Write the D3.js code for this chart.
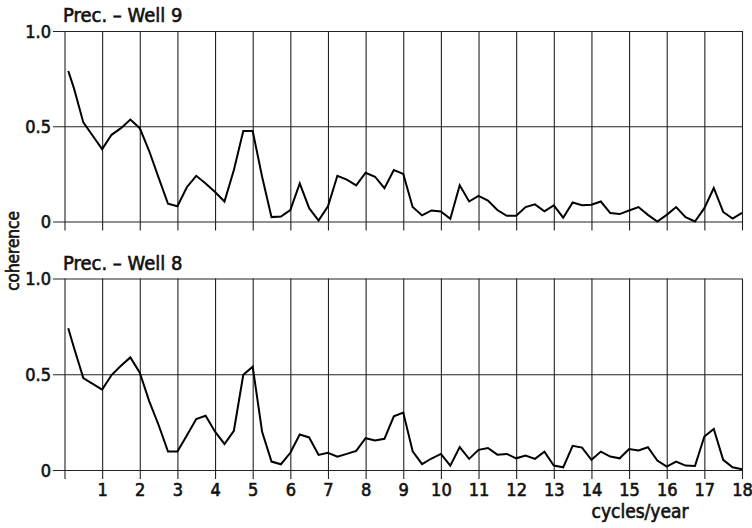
<!DOCTYPE html>
<html>
<head>
<meta charset="utf-8">
<script src="https://cdn.jsdelivr.net/npm/d3@7"></script>
<style>
  body { margin: 0; background: #fff; }
  svg text { font-family: "DejaVu Sans Condensed", "DejaVu Sans", sans-serif; fill: #111; stroke: #111; stroke-width: 0.6px; }
</style>
</head>
<body>
<div id="chart"></div>
<script>
// frequency grid (cycles/year) and coherence
const freqs = [0.1, 0.25, 0.5, 0.75, 1, 1.25, 1.5, 1.75, 2, 2.25, 2.5, 2.75, 3, 3.25, 3.5, 3.75,
  4, 4.25, 4.5, 4.75, 5, 5.25, 5.5, 5.75, 6, 6.25, 6.5, 6.75, 7, 7.25, 7.5, 7.75,
  8, 8.25, 8.5, 8.75, 9, 9.25, 9.5, 9.75, 10, 10.25, 10.5, 10.75, 11, 11.25, 11.5, 11.75,
  12, 12.25, 12.5, 12.75, 13, 13.25, 13.5, 13.75, 14, 14.25, 14.5, 14.75, 15, 15.25, 15.5, 15.75,
  16, 16.25, 16.5, 16.75, 17, 17.25, 17.5, 17.75, 18];

const well9 = [0.79, 0.70, 0.52, 0.45, 0.38, 0.455, 0.49, 0.535, 0.49, 0.37, 0.23, 0.093, 0.08, 0.18, 0.24, 0.20,
  0.155, 0.105, 0.27, 0.475, 0.475, 0.235, 0.023, 0.026, 0.06, 0.20, 0.07, 0.005, 0.08, 0.24, 0.22, 0.19,
  0.256, 0.235, 0.175, 0.27, 0.25, 0.076, 0.032, 0.058, 0.053, 0.014, 0.19, 0.105, 0.134, 0.11, 0.06, 0.03,
  0.03, 0.076, 0.09, 0.053, 0.085, 0.02, 0.10, 0.085, 0.088, 0.105, 0.044, 0.039, 0.058, 0.076, 0.035, 0.0,
  0.035, 0.076, 0.023, 0.0, 0.07, 0.176, 0.05, 0.015, 0.045];

const well8 = [0.74, 0.64, 0.48, 0.45, 0.42, 0.496, 0.544, 0.588, 0.508, 0.36, 0.235, 0.096, 0.096, 0.18, 0.266, 0.283,
  0.20, 0.136, 0.205, 0.497, 0.539, 0.20, 0.044, 0.03, 0.09, 0.185, 0.17, 0.079, 0.09, 0.07, 0.084, 0.10,
  0.166, 0.154, 0.163, 0.28, 0.30, 0.098, 0.031, 0.06, 0.084, 0.023, 0.12, 0.058, 0.105, 0.115, 0.08, 0.084,
  0.061, 0.075, 0.058, 0.096, 0.023, 0.014, 0.126, 0.117, 0.053, 0.096, 0.07, 0.061, 0.109, 0.102, 0.119, 0.049,
  0.018, 0.044, 0.023, 0.021, 0.175, 0.214, 0.053, 0.014, 0.004];

const xTicks = d3.range(0, 19);
const xTickLabels = xTicks.map(d => d === 0 ? "" : String(d));
const yTicks = [0, 0.5, 1.0];
const yTickLabels = ["0", "0.5", "1.0"];

const panels = [
  { title: "Prec. \u2013 Well 9", values: well9, top: 31, bottom: 221.5, labels: false },
  { title: "Prec. \u2013 Well 8", values: well8, top: 278.5, bottom: 470, labels: true }
];

const width = 752, height = 528;
const left = 64.5, right = 742;
const gridLeft = 53;

const svg = d3.select("#chart").append("svg")
  .attr("width", width)
  .attr("height", height);

const x = d3.scaleLinear().domain([0, 18]).range([left, right]);

panels.forEach(p => {
  const y = d3.scaleLinear().domain([0, 1]).range([p.bottom, p.top]);
  const g = svg.append("g");

  // horizontal grid + y labels
  const yAxis = g.append("g")
    .attr("transform", `translate(${right},0)`)
    .call(d3.axisLeft(y)
      .tickValues(yTicks)
      .tickSize(right - gridLeft)
      .tickPadding(2)
      .tickFormat((d, i) => yTickLabels[i]));
  yAxis.select(".domain").remove();
  yAxis.selectAll(".tick line").attr("stroke", "#222").attr("stroke-width", 1.1);
  yAxis.selectAll(".tick text")
    .attr("font-size", 18)
    .attr("font-family", null)
    .attr("dy", "0.36em");

  // vertical grid + x labels
  const xAxis = g.append("g")
    .attr("transform", `translate(0,${p.top})`)
    .call(d3.axisBottom(x)
      .tickValues(xTicks)
      .tickSize(p.bottom - p.top + 9)
      .tickPadding(4)
      .tickFormat((d, i) => p.labels ? xTickLabels[i] : ""));
  xAxis.select(".domain").remove();
  xAxis.selectAll(".tick line").attr("stroke", "#222").attr("stroke-width", 1.1);
  xAxis.selectAll(".tick text")
    .attr("font-size", 18)
    .attr("font-family", null);

  const line = d3.line()
    .x((d, i) => x(freqs[i]))
    .y(d => y(d));

  g.append("path")
    .datum(p.values)
    .attr("d", line)
    .attr("fill", "none")
    .attr("stroke", "#000")
    .attr("stroke-width", 2)
    .attr("stroke-linejoin", "miter");

  g.append("text")
    .attr("x", 63)
    .attr("y", p.top - 9)
    .attr("font-size", 20)
    .text(p.title);
});

svg.append("text")
  .attr("transform", "translate(19,251) rotate(-90)")
  .attr("text-anchor", "middle")
  .attr("font-size", 17)
  .text("coherence");

svg.append("text")
  .attr("x", 640)
  .attr("y", 518)
  .attr("text-anchor", "middle")
  .attr("font-size", 19)
  .text("cycles/year");
</script>
</body>
</html>
